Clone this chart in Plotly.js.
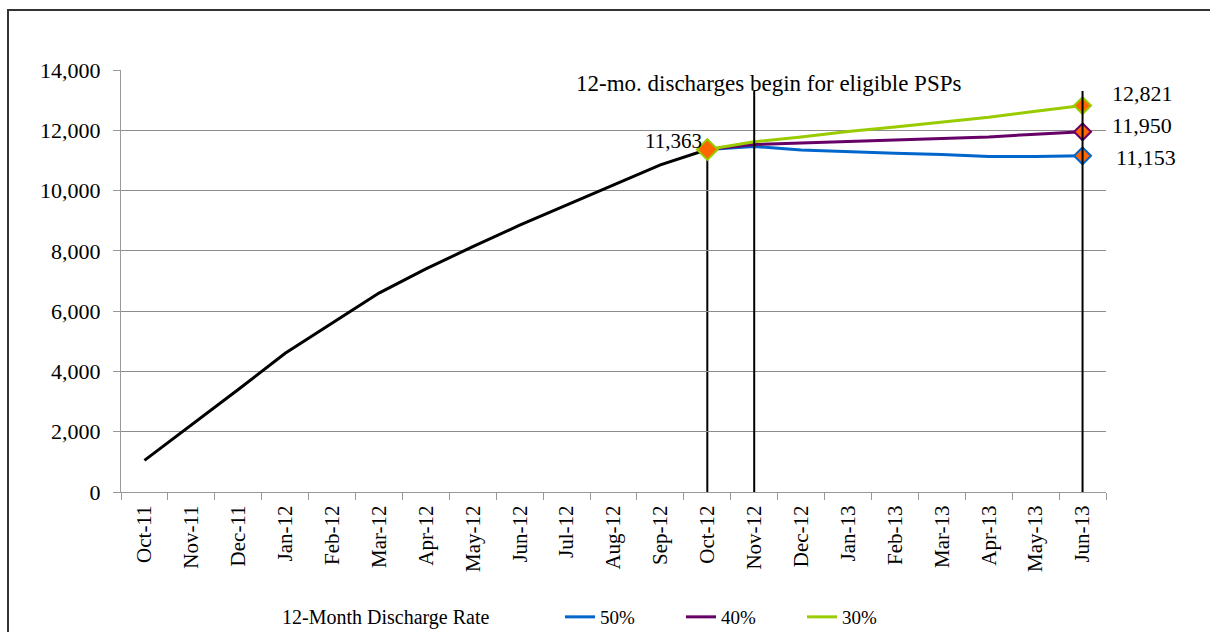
<!DOCTYPE html>
<html>
<head>
<meta charset="utf-8">
<script src="https://cdn.plot.ly/plotly-3.0.1.min.js"></script>
<style>
  html, body { margin: 0; padding: 0; background: #ffffff; }
  #frame { position: absolute; left: 7px; top: 9px; width: 1210px; height: 640px;
           border-left: 2px solid #333; border-top: 2px solid #333; box-sizing: border-box; }
  #chart { position: absolute; left: 0; top: 0; width: 1210px; height: 632px; }
</style>
</head>
<body>
<div id="frame"></div>
<div id="chart"></div>
<script>
// ---- data ----
const months = ["Oct-11","Nov-11","Dec-11","Jan-12","Feb-12","Mar-12","Apr-12","May-12","Jun-12",
                "Jul-12","Aug-12","Sep-12","Oct-12","Nov-12","Dec-12","Jan-13","Feb-13","Mar-13",
                "Apr-13","May-13","Jun-13"];
const historyMonths = months.slice(0, 13);
const historyValues = [1050, 2220, 3400, 4600, 5600, 6600, 7400, 8140, 8850, 9520, 10200, 10850, 11363];
const projMonths = months.slice(12);
const rate50 = [11363, 11460, 11350, 11290, 11240, 11200, 11130, 11130, 11153];
const rate40 = [11363, 11530, 11580, 11630, 11680, 11730, 11780, 11870, 11950];
const rate30 = [11363, 11620, 11780, 11960, 12110, 12270, 12430, 12630, 12821];
const seriesNames = ["50%", "40%", "30%"];
const annotationText = "12-mo. discharges begin for eligible PSPs";
const legendTitle = "12-Month Discharge Rate";
const markerLineTop = 13300;

// ---- style ----
const serif = "Liberation Serif";
const colors = ["#0066CC", "#660066", "#99CC00"];
const orange = "#FF6600";
const series = [rate50, rate40, rate30];
const fmt = v => v.toLocaleString("en-US");

const traces = [];
traces.push({
  x: historyMonths, y: historyValues, type: "scatter", mode: "lines",
  line: {color: "#000000", width: 3}, showlegend: false, hoverinfo: "skip"
});
series.forEach((s, i) => {
  traces.push({
    x: projMonths, y: s, type: "scatter", mode: "lines", name: seriesNames[i],
    line: {color: colors[i], width: 3}
  });
});
series.forEach((s, i) => {
  traces.push({
    x: [projMonths[projMonths.length - 1]], y: [s[s.length - 1]], type: "scatter", mode: "markers",
    marker: {symbol: "diamond", size: 13, color: orange, line: {color: colors[i], width: 2}},
    showlegend: false, hoverinfo: "skip", cliponaxis: false
  });
});
traces.push({
  x: [historyMonths[historyMonths.length - 1]], y: [historyValues[historyValues.length - 1]],
  type: "scatter", mode: "markers",
  marker: {symbol: "diamond", size: 16, color: orange, line: {color: colors[2], width: 2}},
  showlegend: false, hoverinfo: "skip"
});

const startMonth = historyMonths[historyMonths.length - 1];
const startVal = historyValues[historyValues.length - 1];
const endMonth = projMonths[projMonths.length - 1];

const shapes = [
  {type: "line", xref: "x", yref: "y", x0: startMonth, x1: startMonth, y0: 0, y1: startVal,
   line: {color: "#000", width: 2}, layer: "below"},
  {type: "line", xref: "x", yref: "y", x0: projMonths[1], x1: projMonths[1], y0: 0, y1: markerLineTop,
   line: {color: "#000", width: 2}, layer: "above"},
  {type: "line", xref: "x", yref: "y", x0: endMonth, x1: endMonth, y0: 0, y1: markerLineTop,
   line: {color: "#000", width: 2}, layer: "above"}
];

const plotL = 121, plotW = 1210 - 121 - 104, plotB = 492, plotH = 492 - 70;
const labelShifts = [ -2, 6, 12 ];
const annotations = [
  {xref: "x", yref: "y", x: startMonth, y: startVal, text: fmt(startVal), showarrow: false,
   xanchor: "right", yanchor: "bottom", xshift: -3, yshift: -6,
   font: {family: serif, size: 21, color: "#000"}},
  {xref: "x", yref: "y", x: projMonths[1], y: markerLineTop, text: annotationText, showarrow: false,
   xanchor: "center", yanchor: "bottom", xshift: 14, yshift: -7,
   font: {family: serif, size: 23, color: "#000"}},
  {xref: "paper", yref: "paper", x: (280 - plotL) / plotW, y: (plotB - 617) / plotH, text: legendTitle,
   showarrow: false, xanchor: "left", yanchor: "middle",
   font: {family: serif, size: 20, color: "#000"}}
];
series.forEach((s, i) => {
  annotations.push({xref: "x", yref: "y", x: endMonth, y: s[s.length - 1], text: fmt(s[s.length - 1]),
    showarrow: false, xanchor: "left", yanchor: "middle", xshift: 27 + (i === 0 ? 4 : 0), yshift: labelShifts[i],
    font: {family: serif, size: 22, color: "#000"}});
});

const layout = {
  width: 1210, height: 632,
  margin: {l: 121, r: 104, t: 70, b: 140, pad: 0},
  paper_bgcolor: "rgba(0,0,0,0)", plot_bgcolor: "rgba(0,0,0,0)",
  showlegend: true,
  xaxis: {
    type: "category", categoryorder: "array", categoryarray: months,
    range: [-0.5, months.length - 0.5],
    showgrid: false, showline: true, linecolor: "#999", linewidth: 1,
    ticks: "outside", tickson: "boundaries", ticklen: 7, tickcolor: "#999",
    tickangle: -90, tickfont: {family: serif, size: 21, color: "#000"},
    ticklabelstandoff: 4,
    zeroline: false, automargin: false
  },
  yaxis: {
    range: [0, 14000], dtick: 2000, tickformat: ",d",
    showgrid: true, gridcolor: "#8c8c8c", gridwidth: 1,
    showline: true, linecolor: "#999", linewidth: 1,
    ticks: "outside", ticklen: 7, tickcolor: "#999",
    tickfont: {family: serif, size: 22, color: "#000"},
    ticklabelstandoff: 8,
    zeroline: false, automargin: false
  },
  legend: {
    orientation: "h", xref: "container", yref: "container",
    x: 560 / 1210, xanchor: "left", y: 1 - 617 / 632, yanchor: "middle",
    font: {family: serif, size: 19, color: "#000"},
    entrywidth: 76, entrywidthmode: "pixels",
    bgcolor: "rgba(0,0,0,0)"
  },
  shapes: shapes,
  annotations: annotations
};

Plotly.newPlot("chart", traces, layout, {displayModeBar: false, staticPlot: true});
</script>
</body>
</html>
